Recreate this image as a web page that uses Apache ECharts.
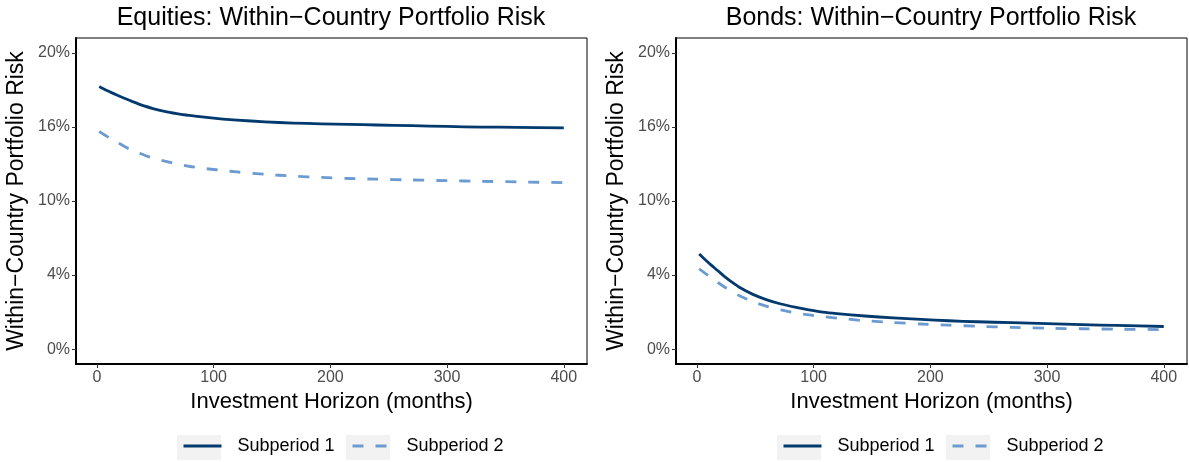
<!DOCTYPE html>
<html>
<head>
<meta charset="utf-8">
<script src="https://cdn.jsdelivr.net/npm/echarts@6/dist/echarts.min.js"></script>
<style>html,body{margin:0;padding:0;background:#fff;}#c{width:1189px;height:462px;}</style>
</head>
<body>
<div id="c"></div>
<script>
// ---- data ----
var months = [2, 6, 12, 18, 24, 30, 36, 48, 60, 72, 84, 96, 108, 120, 144, 168, 192, 216, 240, 270, 300, 330, 360, 400];
var equitySub1 = [0.1772, 0.1756, 0.1733, 0.1712, 0.1692, 0.1672, 0.1654, 0.1624, 0.1601, 0.1585, 0.1573, 0.1562, 0.1553, 0.1546, 0.1534, 0.1526, 0.1521, 0.1517, 0.1513, 0.1508, 0.1503, 0.1499, 0.1497, 0.1494];
var equitySub2 = [0.1469, 0.1449, 0.1420, 0.1394, 0.1366, 0.1343, 0.1324, 0.1289, 0.1266, 0.1245, 0.1228, 0.1216, 0.1206, 0.1196, 0.1180, 0.1168, 0.1159, 0.1152, 0.1147, 0.1142, 0.1137, 0.1133, 0.1129, 0.1124];
var bondSub1 = [0.0642, 0.0612, 0.0569, 0.0529, 0.0488, 0.0453, 0.0420, 0.0370, 0.0333, 0.0305, 0.0284, 0.0266, 0.0250, 0.0240, 0.0224, 0.0211, 0.0201, 0.0192, 0.0185, 0.0179, 0.0173, 0.0166, 0.0160, 0.0153];
var bondSub2 = [0.0543, 0.0518, 0.0484, 0.0450, 0.0418, 0.0390, 0.0363, 0.0321, 0.0289, 0.0265, 0.0246, 0.0231, 0.0220, 0.0210, 0.0192, 0.0180, 0.0170, 0.0162, 0.0155, 0.0147, 0.0141, 0.0138, 0.0135, 0.0132];
var yTickValues = [0, 0.05, 0.10, 0.15, 0.20];
var yTickLabels = ['0%', '4%', '10%', '16%', '20%'];
var xTickValues = [0, 100, 200, 300, 400];
var panelTitles = ['Equities: Within\u2212Country Portfolio Risk', 'Bonds: Within\u2212Country Portfolio Risk'];
var seriesNames = ['Subperiod 1', 'Subperiod 2'];

function pairs(xs, ys) { return xs.map(function (x, i) { return [x, ys[i]]; }); }

var FONT = '"Liberation Sans", Arial, Helvetica, sans-serif';
var DARK = '#023a6e';
var LIGHT = '#6b9bd0';

function xAxis(gi) {
  return {
    type: 'value', gridIndex: gi, min: -17.9, max: 419.9,
    name: 'Investment Horizon (months)', nameLocation: 'middle', nameGap: 25,
    nameTextStyle: { fontSize: 22, color: '#000', fontFamily: FONT },
    axisLine: { show: true, onZero: false, lineStyle: { color: '#000', width: 2 } },
    axisTick: { show: true, length: 4, customValues: xTickValues, lineStyle: { color: '#333', width: 1 } },
    axisLabel: { customValues: xTickValues, fontSize: 16, color: '#4d4d4d', margin: 6, fontFamily: FONT },
    splitLine: { show: false }
  };
}
function yAxis(gi) {
  return {
    type: 'value', gridIndex: gi, min: -0.01, max: 0.21,
    name: 'Within\u2212Country Portfolio Risk', nameLocation: 'middle', nameGap: 48,
    nameTextStyle: { fontSize: 23, color: '#000', fontFamily: FONT },
    axisLine: { show: true, onZero: false, lineStyle: { color: '#000', width: 2 } },
    axisTick: { show: true, length: 4, customValues: yTickValues, lineStyle: { color: '#333', width: 1 } },
    axisLabel: {
      customValues: yTickValues, fontSize: 16, color: '#4d4d4d', margin: 6, fontFamily: FONT,
      formatter: function (v) {
        for (var i = 0; i < yTickValues.length; i++) { if (Math.abs(yTickValues[i] - v) < 1e-9) return yTickLabels[i]; }
        return '';
      }
    },
    splitLine: { show: false }
  };
}
function line(name, gi, ys, color, dashed) {
  return {
    type: 'line', name: name, xAxisIndex: gi, yAxisIndex: gi,
    data: pairs(months, ys), showSymbol: false, symbol: 'none',
    smooth: 0.25,
    lineStyle: { color: color, width: 2.8, type: dashed ? [11, 12] : 'solid', cap: 'butt', join: 'round' },
    itemStyle: { color: color }
  };
}
function legend(name, left) {
  return {
    data: [name], left: left, top: 437, padding: 0, itemWidth: 38, itemHeight: 14,
    selectedMode: false,
    itemStyle: { opacity: 0, borderWidth: 0 },
    lineStyle: { width: 3 },
    textStyle: { fontSize: 18, color: '#000', fontFamily: FONT, padding: [0, 0, 0, 11] }
  };
}
function keyBg(x) {
  return { type: 'rect', left: x, top: 435, z: -1, shape: { width: 44, height: 25 }, style: { fill: '#f2f2f2' } };
}

var chart = echarts.init(document.getElementById('c'), null, { renderer: 'canvas' });
chart.setOption({
  backgroundColor: '#fff',
  animation: false,
  textStyle: { fontFamily: FONT },
  title: [
    { text: panelTitles[0], left: 331, top: 6, padding: 0, textAlign: 'center', textStyle: { fontSize: 25, fontWeight: 'normal', color: '#000', fontFamily: FONT } },
    { text: panelTitles[1], left: 931, top: 6, padding: 0, textAlign: 'center', textStyle: { fontSize: 25, fontWeight: 'normal', color: '#000', fontFamily: FONT } }
  ],
  grid: [
    { left: 76, top: 38, width: 511, height: 326, show: true, borderColor: '#000', borderWidth: 1, backgroundColor: '#fff' },
    { left: 676, top: 38, width: 511, height: 326, show: true, borderColor: '#000', borderWidth: 1, backgroundColor: '#fff' }
  ],
  xAxis: [xAxis(0), xAxis(1)],
  yAxis: [yAxis(0), yAxis(1)],
  legend: [
    legend(seriesNames[0], 182), legend(seriesNames[1], 351),
    legend(seriesNames[0], 782), legend(seriesNames[1], 951)
  ],
  graphic: [keyBg(177), keyBg(346), keyBg(777), keyBg(946)],
  series: [
    line(seriesNames[0], 0, equitySub1, DARK, false),
    line(seriesNames[1], 0, equitySub2, LIGHT, true),
    line(seriesNames[0], 1, bondSub1, DARK, false),
    line(seriesNames[1], 1, bondSub2, LIGHT, true)
  ]
});
</script>
</body>
</html>
